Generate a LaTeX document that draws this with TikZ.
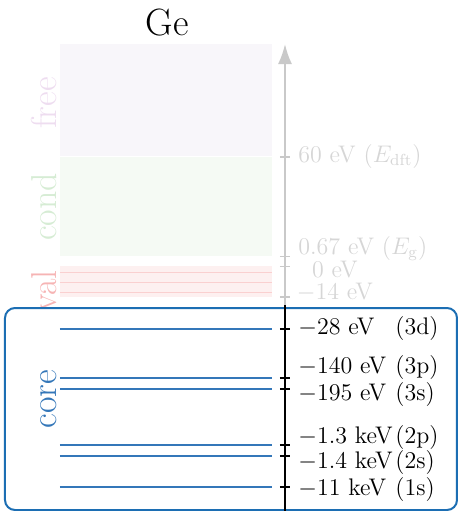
\documentclass[tikz,border=0pt]{standalone}
\usepackage{amsmath}
\usepackage{xcolor}
\usepackage{tikz}
\usetikzlibrary{arrows.meta,positioning}
\definecolor{geCore}{HTML}{3477B9}
\definecolor{geBox}{HTML}{1C6EB3}
\definecolor{geGray}{HTML}{C9C9C9}
\definecolor{geGrayText}{HTML}{D6D6D6}
\definecolor{geFree}{HTML}{F8F6FA}
\definecolor{geFreeText}{HTML}{EEDDF0}
\definecolor{geCond}{HTML}{F5FAF4}
\definecolor{geCondText}{HTML}{D6ECD4}
\definecolor{geVal}{HTML}{FDF0F0}
\definecolor{geValLine}{HTML}{FAD0D0}
\definecolor{geValText}{HTML}{F6B4B4}
\tikzset{
  ge diagram/.style={x=0.5pt, y=-0.5pt, font=\fontsize{12}{14}\selectfont,
    line join=round},
  ge level/.style={draw=geCore, line width=0.9pt},
  ge val level/.style={draw=geValLine, line width=0.9pt},
  ge tick/.style={draw=black, line width=0.8pt},
  ge gray tick/.style={draw=geGray, line width=0.8pt},
  ge label/.style={anchor=base west, inner sep=0pt},
  ge gray label/.style={ge label, text=geGrayText},
  ge side/.style={rotate=90, anchor=base, inner sep=0pt,
    font=\fontsize{18}{20}\selectfont},
  ge core box/.style={draw=geBox, fill=white, line width=1pt,
    rounded corners=5pt},
  ge axis/.style={-{Latex[length=10pt,width=7pt]}, draw=geGray, line width=1pt}
}
\begin{document}
\begin{tikzpicture}[ge diagram]
\useasboundingbox (0,0) rectangle (458,511);
\node[font=\fontsize{19}{22}\selectfont, anchor=base] (title) at (167,35) {Ge};
% bands
\fill[geFree] (60,44) rectangle (272,156);
\fill[geCond] (60,157) rectangle (272,256);
\fill[geVal] (60,266) rectangle (272,297);
\foreach \y in {272.5,282.5,292.5}{
  \draw[ge val level] (60,\y) -- (272,\y);
}
\node[ge side, text=geFreeText] (free) at (56,103) {free};
\node[ge side, text=geCondText] (cond) at (56,207) {cond};
\node[ge side, text=geValText] (val) at (57,291) {val};
% core box
\draw[ge core box] (5,308) rectangle (457,510);
\node[ge side, text=geCore] (core) at (56,399) {core};
% axis
\coordinate (axtop) at (285,44);
\coordinate (axmid) at (285,305);
\coordinate (axbot) at (285,511);
\draw[ge axis] (axmid) -- (axtop);
\draw[draw=black, line width=1pt] (axmid) -- (axbot);
\foreach \y/\b/\en/\nm in {157/162/{60 eV ($E_\mathrm{dft}$)}/dft,
    256.5/254/{0.67 eV ($E_\mathrm{g}$)}/gap}{
  \draw[ge gray tick] (280,\y) -- (290,\y);
  \node[ge gray label] (e\nm) at (298,\b) {\en};
}
\foreach \y/\b/\en/\nm in {266.5/277/{0 eV}/vtop, 297/299/{$-14$ eV}/vbot}{
  \draw[ge gray tick] (280,\y) -- (290,\y);
  \node[ge gray label, anchor=base] (e\nm) at (335,\b) {\en};
}
\foreach \y/\b/\en/\orb in {329/334/{$-28$ eV}/3d, 378/373/{$-140$ eV}/3p,
    389/400/{$-195$ eV}/3s, 445/443/{$-1.3$ keV}/2p,
    456/468/{$-1.4$ keV}/2s, 487/495/{$-11$ keV}/1s}{
  \draw[ge level] (60,\y) coordinate (l\orb) -- (272,\y);
  \draw[ge tick] (280,\y) -- (290,\y);
  \node[ge label] (e\orb) at (298,\b) {\en};
  \node[ge label] (o\orb) at (395,\b) {(\orb)};
}
\end{tikzpicture}
\end{document}
